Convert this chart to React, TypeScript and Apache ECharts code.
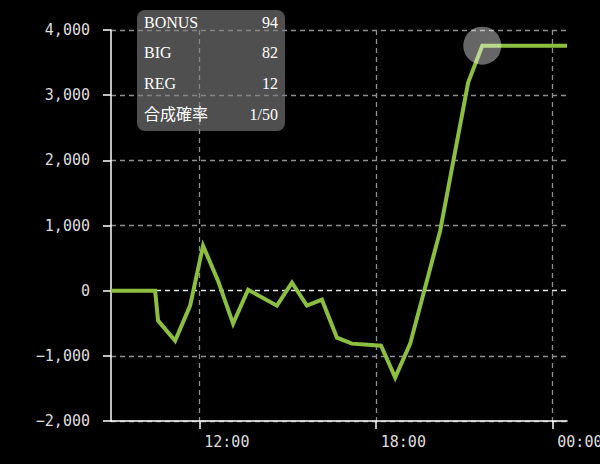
import React, { useEffect, useRef } from "react";
import * as echarts from "echarts";

// time of day in hours (24 = next day's 00:00)
const hours = [9, 10.5, 10.6, 11.18, 11.69, 12.13, 12.64, 13.15, 13.66, 14.64, 15.15, 15.66, 16.17, 16.68, 17.19, 18.18, 18.66, 19.17, 20.19, 21.14, 21.62, 24.5];
const values = [0, 0, -460, -770, -230, 690, 150, -506, 15, -230, 123, -230, -138, -721, -813, -844, -1335, -813, 921, 3192, 3760, 3760];

const xTicks = [12, 18, 24];
const yMin = -2000;
const yMax = 4000;
const yStep = 1000;

const statLabels = ["BONUS", "BIG", "REG", "合成確率"];
const statValues = ["94", "82", "12", "1/50"];

const highlightIndex = 20;

const mono = '"DejaVu Sans Mono", monospace';
const serif = '"Liberation Serif", "Noto Sans CJK JP", serif';

export default function App() {
  const ref = useRef<HTMLDivElement>(null);
  useEffect(() => {
    if (!ref.current) return;
    const chart = echarts.init(ref.current, null, { renderer: "svg" });
    const data = hours.map((h, i) => [h, values[i]]);
    const statTexts: any[] = [];
    statLabels.forEach((lab, i) => {
      const y = 22 + i * 30.7;
      const common = {
        fill: "#ffffff",
        font: `16px ${serif}`,
        textVerticalAlign: "middle",
        shadowColor: "rgba(0,0,0,0.95)",
        shadowBlur: 2,
        shadowOffsetX: 1,
        shadowOffsetY: 1,
      };
      statTexts.push({
        type: "text",
        z: 101,
        style: { ...common, text: lab, x: 144, y, textAlign: "left" },
      });
      statTexts.push({
        type: "text",
        z: 101,
        style: { ...common, text: statValues[i], x: 278, y, textAlign: "right" },
      });
    });
    chart.setOption({
      animation: false,
      backgroundColor: "#000000",
      grid: { left: 111, right: 33, top: 30, bottom: 43, containLabel: false, outerBoundsMode: "none" },
      xAxis: {
        type: "value",
        min: 9,
        max: 24.5,
        axisLine: { show: true, onZero: false, lineStyle: { color: "#ffffff", width: 1.5 } },
        axisTick: { show: true, customValues: xTicks, length: 8, lineStyle: { color: "#ffffff", width: 1.5 } },
        axisLabel: {
          customValues: xTicks,
          color: "#dddddd",
          fontFamily: mono,
          fontSize: 15,
          align: "left",
          margin: 13,
          padding: [0, 0, 0, 5],
          formatter: (v: number) => String(v % 24).padStart(2, "0") + ":00",
        },
        splitLine: { show: true, lineStyle: { color: "#8f8f8f", type: [5, 4], width: 1.3 } },
      },
      yAxis: {
        type: "value",
        min: yMin,
        max: yMax,
        interval: yStep,
        axisLine: { show: true, onZero: false, lineStyle: { color: "#ffffff", width: 1.5 } },
        axisTick: { show: true, length: 8, lineStyle: { color: "#ffffff", width: 1.5 } },
        axisLabel: {
          color: "#dddddd",
          fontFamily: mono,
          fontSize: 15,
          margin: 21,
          formatter: (v: number) => (v < 0 ? "\u2212" : "") + Math.abs(v).toLocaleString("en-US"),
        },
        splitLine: {
          show: true,
          lineStyle: {
            color: ["#8f8f8f", "#8f8f8f", "#e6e6e6", "#8f8f8f", "#8f8f8f", "#8f8f8f", "#8f8f8f"],
            type: [5, 4],
            width: 1.3,
          },
        },
      },
      series: [
        {
          type: "line",
          data,
          symbol: "none",
          z: 3,
          lineStyle: { color: "#8cbf3f", width: 4, join: "miter" },
        },
        {
          type: "scatter",
          data: [data[highlightIndex]],
          symbolSize: 38,
          z: 4,
          itemStyle: { color: "rgba(255,255,255,0.5)" },
          silent: true,
        },
      ],
      graphic: [
        {
          type: "rect",
          z: 100,
          shape: { x: 137, y: 10, width: 148, height: 121, r: 8 },
          style: { fill: "rgba(128,128,128,0.62)" },
        },
        ...statTexts,
      ],
    });
    return () => chart.dispose();
  }, []);
  return (
    <div
      ref={ref}
      style={{ position: "fixed", left: 0, top: 0, width: 600, height: 464, background: "#000" }}
    />
  );
}
